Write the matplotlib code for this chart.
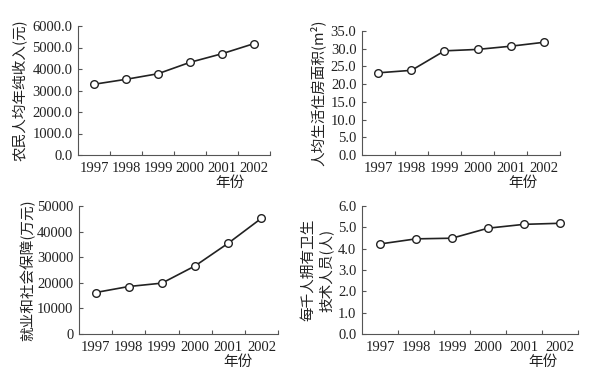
import matplotlib
matplotlib.use("Agg")
import matplotlib.pyplot as plt
from matplotlib.ticker import FixedLocator

# 数据
years = ["1997", "1998", "1999", "2000", "2001", "2002"]
income = [3290, 3520, 3780, 4310, 4710, 5180]           # 农民人均年纯收入(元)
housing = [23.2, 23.9, 29.4, 29.8, 30.7, 31.8]          # 人均生活住房面积(m2)
security = [16200, 18550, 19870, 26600, 35470, 45200]   # 就业和社会保障(万元)
health = [4.22, 4.46, 4.49, 4.96, 5.14, 5.19]           # 每千人拥有卫生技术人员(人)

cjk = ["Noto Sans CJK SC", "DejaVu Sans"]
serif = ["Liberation Serif", "DejaVu Serif"]

fig = plt.figure(figsize=(5.95, 3.81), dpi=100)
W, H = 595, 381


def panel(box, values, yticks, ylabels, ylabel, ylabel_x, xlab_pos):
    l, t, r, b = box
    ax = fig.add_axes([l / W, 1 - b / H, (r - l) / W, (b - t) / H])
    x = list(range(len(years)))
    ax.plot(x, values, color="#222222", lw=1.2, marker="o", ms=5.5,
            mfc="white", mec="#222222", mew=1.0, zorder=3)
    ax.set_xlim(-0.5, len(years) - 0.5)
    ax.set_ylim(yticks[0], yticks[-1])
    for s in ["top", "right"]:
        ax.spines[s].set_visible(False)
    for s in ["left", "bottom"]:
        ax.spines[s].set_color("#555555")
        ax.spines[s].set_linewidth(0.8)
    # x 轴：标签在类别中心，刻度在类别之间
    ax.set_xticks(x)
    ax.set_xticklabels(years, fontfamily=serif, fontsize=10.5, color="#222222")
    ax.tick_params(axis="x", which="major", length=0, pad=5)
    ax.xaxis.set_minor_locator(FixedLocator([i + 0.5 for i in x]))
    ax.tick_params(axis="x", which="minor", direction="in", length=3,
                   width=0.8, color="#555555")
    ax.set_yticks(yticks)
    ax.set_yticklabels(ylabels, fontfamily=serif, fontsize=10.5, color="#222222")
    ax.tick_params(axis="y", direction="in", length=3, width=0.8,
                   color="#555555", pad=4)
    fig.text(ylabel_x / W, 1 - ((t + b) / 2) / H, ylabel, rotation=90,
             ha="center", va="center", family=cjk, fontsize=10.5,
             color="#222222", linespacing=1.3)
    fig.text(xlab_pos[0] / W, 1 - xlab_pos[1] / H, "年份", ha="center",
             va="center", family=cjk, fontsize=10.5, color="#222222")
    return ax


panel((78, 26, 270, 155), income,
      [0, 1000, 2000, 3000, 4000, 5000, 6000],
      ["0.0", "1000.0", "2000.0", "3000.0", "4000.0", "5000.0", "6000.0"],
      "农民人均年纯收入(元)", 20, (230, 183))

panel((362, 31, 560, 155), housing,
      [0, 5, 10, 15, 20, 25, 30, 35],
      ["0.0", "5.0", "10.0", "15.0", "20.0", "25.0", "30.0", "35.0"],
      "人均生活住房面积(m²)", 318, (523, 183))

panel((79, 206, 278, 334), security,
      [0, 10000, 20000, 30000, 40000, 50000],
      ["0", "10000", "20000", "30000", "40000", "50000"],
      "就业和社会保障(万元)", 28, (238, 362))

panel((362, 206, 578, 334), health,
      [0, 1, 2, 3, 4, 5, 6],
      ["0.0", "1.0", "2.0", "3.0", "4.0", "5.0", "6.0"],
      "每千人拥有卫生\n技术人员(人)", 317, (543, 362))

fig.savefig("out.png", dpi=100)
